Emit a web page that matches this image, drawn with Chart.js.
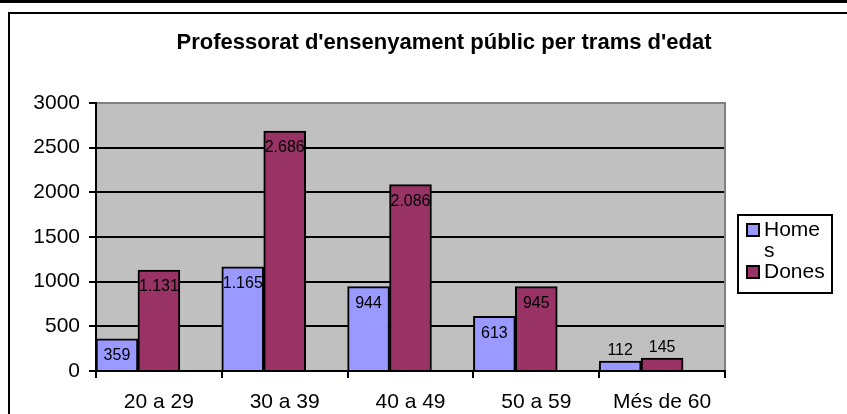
<!DOCTYPE html>
<html>
<head>
<meta charset="utf-8">
<script src="https://cdn.jsdelivr.net/npm/chart.js@4/dist/chart.umd.min.js"></script>
<style>
  html, body { margin: 0; padding: 0; background: #fff; }
  canvas { display: block; }
</style>
</head>
<body>
<canvas id="grafic" width="847" height="414"></canvas>
<script>
// dades llegides del gràfic
const titol = "Professorat d'ensenyament públic per trams d'edat";
const trams = ['20 a 29', '30 a 39', '40 a 49', '50 a 59', 'Més de 60'];
const homes = [359, 1165, 944, 613, 112];
const dones = [1131, 2686, 2086, 945, 145];
const yMax = 3000;
const yPas = 500;

const FONT = "'Liberation Sans', Arial, sans-serif";

// numero amb punt de milers, com a l'original
function fmt(v) {
    return String(v).replace(/\B(?=(\d{3})+(?!\d))/g, '.');
}

// talla el text per caracters quan no hi cap (com fa la llegenda original)
function trencaText(ctx, text, ample) {
    let linies = [];
    let actual = '';
    for (const c of text) {
        if (actual && ctx.measureText(actual + c).width > ample) {
            linies.push(actual);
            actual = c;
        } else {
            actual += c;
        }
    }
    if (actual) linies.push(actual);
    return linies;
}

const marcPlugin = {
    id: 'marc',
    beforeDraw(chart) {
        const ctx = chart.ctx;
        const a = chart.chartArea;
        ctx.save();
        ctx.fillStyle = '#fff';
        ctx.fillRect(0, 0, chart.width, chart.height);
        // linia superior i requadre
        ctx.fillStyle = '#000';
        ctx.fillRect(0, 0, chart.width, 3);
        ctx.fillRect(8, 12, chart.width - 8, 2);
        ctx.fillRect(8, 12, 2, chart.height - 12);
        // fons de l'area de dibuix
        ctx.fillStyle = '#C0C0C0';
        ctx.fillRect(a.left, a.top, a.right - a.left, a.bottom - a.top);
        // titol
        ctx.fillStyle = '#000';
        ctx.font = 'bold 22px ' + FONT;
        ctx.textAlign = 'center';
        ctx.textBaseline = 'middle';
        ctx.fillText(titol, 444, 43);
        ctx.restore();
    },
    afterDatasetsDraw(chart) {
        const ctx = chart.ctx;
        const a = chart.chartArea;
        ctx.save();
        // vora dreta grisa
        ctx.fillStyle = '#808080';
        ctx.fillRect(a.right - 1, a.top - 1, 2, a.bottom - a.top);
        // etiquetes de valor
        ctx.fillStyle = '#000';
        ctx.font = '16px ' + FONT;
        ctx.textAlign = 'center';
        ctx.textBaseline = 'middle';
        [0, 1].forEach(i => {
            const meta = chart.getDatasetMeta(i);
            meta.data.forEach((bar, j) => {
                const v = chart.data.datasets[i].data[j];
                const alt = bar.base - bar.y;
                const y = alt > 30 ? bar.y + 17 : bar.y - 10;
                ctx.fillText(fmt(v), bar.x, y);
            });
        });
        ctx.restore();
    },
    afterDraw(chart) {
        // llegenda
        const ctx = chart.ctx;
        ctx.save();
        const x0 = 737, y0 = 214, w = 96, h = 80;
        ctx.fillStyle = '#fff';
        ctx.fillRect(x0, y0, w, h);
        ctx.strokeStyle = '#000';
        ctx.lineWidth = 2;
        ctx.strokeRect(x0 + 1, y0 + 1, w - 2, h - 2);
        ctx.font = '21px ' + FONT;
        ctx.textBaseline = 'middle';
        ctx.textAlign = 'left';
        let y = 230;
        [0, 1].forEach(i => {
            const ds = chart.data.datasets[i];
            ctx.fillStyle = ds.backgroundColor;
            ctx.fillRect(746, y - 7, 14, 14);
            ctx.strokeRect(747, y - 6, 12, 12);
            ctx.fillStyle = '#000';
            const linies = trencaText(ctx, ds.label, 62);
            linies.forEach((l, k) => {
                ctx.fillText(l, 764, y + k * 21);
            });
            y += linies.length * 21;
        });
        ctx.restore();
    }
};

new Chart(document.getElementById('grafic'), {
    type: 'bar',
    data: {
        labels: trams,
        datasets: [
            { label: 'Homes', data: homes, backgroundColor: '#9999FF' },
            { label: 'Dones', data: dones, backgroundColor: '#993366' },
            // columna buida per deixar l'espai a la dreta de cada grup
            { label: '', data: trams.map(() => null), backgroundColor: 'rgba(0,0,0,0)' }
        ]
    },
    options: {
        responsive: false,
        animation: false,
        devicePixelRatio: 1,
        layout: { padding: { left: 10, right: 122, top: 103, bottom: 0 } },
        datasets: {
            bar: {
                barPercentage: 1,
                categoryPercentage: 1,
                borderColor: '#000',
                borderWidth: 2
            }
        },
        plugins: {
            legend: { display: false },
            title: { display: false },
            tooltip: { enabled: false }
        },
        scales: {
            x: {
                grid: {
                    offset: true,
                    drawOnChartArea: false,
                    drawTicks: true,
                    tickLength: 7,
                    color: '#000',
                    lineWidth: 2
                },
                border: { color: '#000', width: 2 },
                ticks: {
                    color: '#000',
                    padding: 12,
                    maxRotation: 0,
                    font: { family: FONT, size: 21 }
                },
                afterFit(s) { s.height = 43; }
            },
            y: {
                min: 0,
                max: yMax,
                ticks: {
                    stepSize: yPas,
                    color: '#000',
                    padding: 9,
                    font: { family: FONT, size: 21 },
                    callback: v => String(v)
                },
                grid: {
                    color: c => (c.tick && c.tick.value === yMax) ? '#808080' : '#000',
                    tickColor: '#000',
                    lineWidth: 2,
                    tickLength: 7
                },
                border: { color: '#000', width: 2 },
                afterFit(s) { s.width = 86; }
            }
        }
    },
    plugins: [marcPlugin]
});
</script>
</body>
</html>
